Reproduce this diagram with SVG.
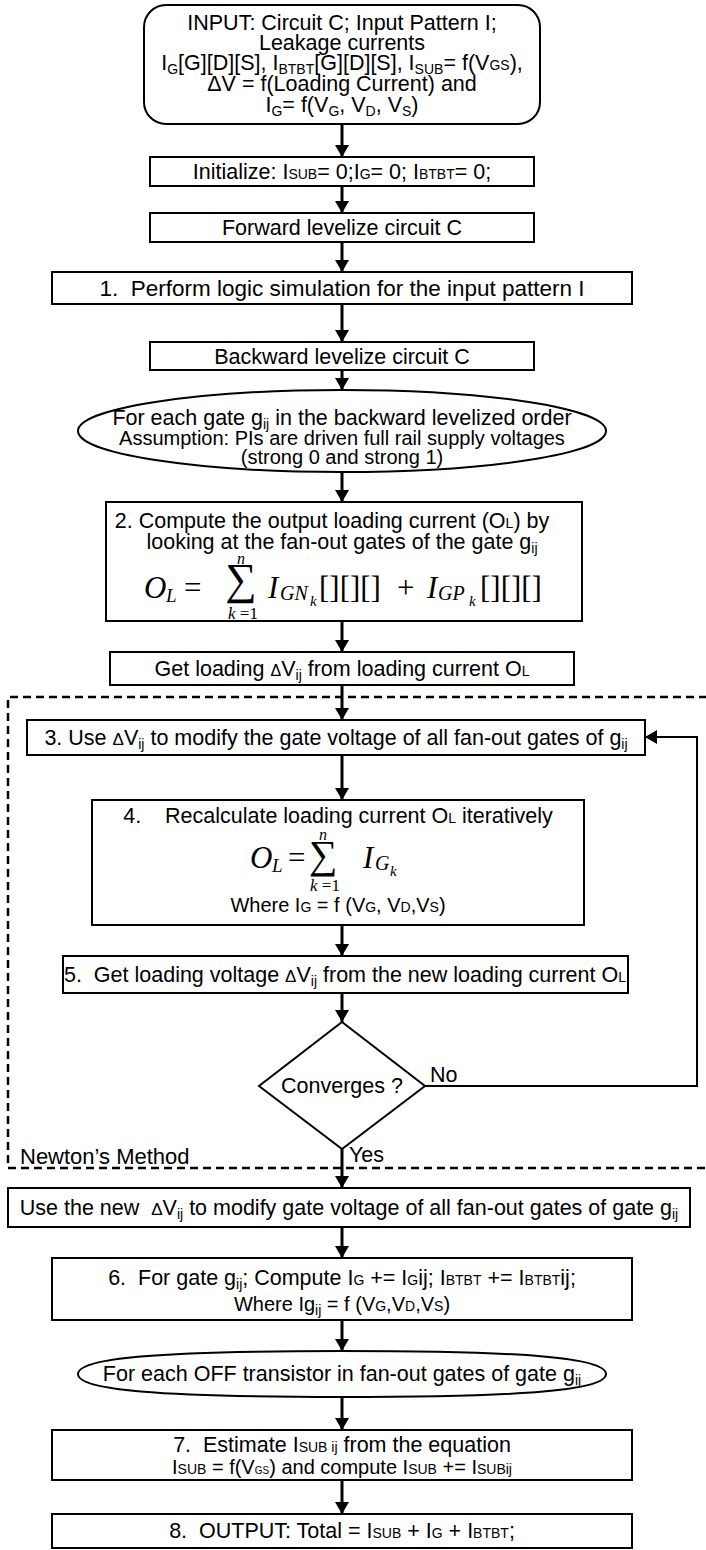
<svg xmlns="http://www.w3.org/2000/svg" width="706" height="1550" viewBox="0 0 706 1550">
<style>
.box{fill:#fff;stroke:#000;stroke-width:2}
.t{font-family:"Liberation Sans",Arial,sans-serif;font-size:21.5px;text-anchor:middle;fill:#000}
.tl{font-family:"Liberation Sans",Arial,sans-serif;font-size:21.5px;fill:#000}
.sb{font-size:14px}
.m{font-family:"Liberation Serif","Times New Roman",serif;font-style:italic;fill:#000}
.r{font-family:"Liberation Serif","Times New Roman",serif;fill:#000}
.sig{font-family:"Liberation Serif","Times New Roman",serif;font-size:44px;text-anchor:middle;fill:#000}
.c{fill:none;stroke:#000;stroke-width:3}
.fb{fill:none;stroke:#000;stroke-width:2}
.dash{fill:none;stroke:#000;stroke-width:2.5;stroke-dasharray:8 5}
</style>
<defs>
<marker id="ah" viewBox="0 0 12 14" refX="12" refY="7" markerWidth="12" markerHeight="14" orient="auto" markerUnits="userSpaceOnUse"><path d="M0,0 L12,7 L0,14 z" fill="#000"/></marker>
</defs>
<rect width="706" height="1550" fill="#fff"/>

<g id="newton-region">
<path class="dash" d="M720,697 H8 V1168 H720"/>
<text class="tl" x="20" y="1164" style="font-size:22px">Newton’s Method</text>
</g>

<g id="connectors">
<line class="c" x1="342" y1="124" x2="342" y2="157" marker-end="url(#ah)"/>
<line class="c" x1="342" y1="186" x2="342" y2="213" marker-end="url(#ah)"/>
<line class="c" x1="342" y1="242" x2="342" y2="272" marker-end="url(#ah)"/>
<line class="c" x1="342" y1="304" x2="342" y2="342" marker-end="url(#ah)"/>
<line class="c" x1="342" y1="370" x2="342" y2="390" marker-end="url(#ah)"/>
<line class="c" x1="342" y1="472" x2="342" y2="502" marker-end="url(#ah)"/>
<line class="c" x1="342" y1="621" x2="342" y2="652" marker-end="url(#ah)"/>
<line class="c" x1="342" y1="685" x2="342" y2="720" marker-end="url(#ah)"/>
<line class="c" x1="342" y1="755" x2="342" y2="800" marker-end="url(#ah)"/>
<line class="c" x1="342" y1="925" x2="342" y2="956" marker-end="url(#ah)"/>
<line class="c" x1="342" y1="993" x2="342" y2="1022" marker-end="url(#ah)"/>
<line class="c" x1="342" y1="1149" x2="342" y2="1188" marker-end="url(#ah)"/>
<line class="c" x1="342" y1="1227" x2="342" y2="1258" marker-end="url(#ah)"/>
<line class="c" x1="342" y1="1320" x2="342" y2="1351" marker-end="url(#ah)"/>
<line class="c" x1="342" y1="1397" x2="342" y2="1430" marker-end="url(#ah)"/>
<line class="c" x1="342" y1="1480" x2="342" y2="1514" marker-end="url(#ah)"/>
<polyline class="fb" points="425,1086 697,1086 697,737 645,737" marker-end="url(#ah)"/>
<text class="tl" x="430" y="1082">No</text>
<text class="tl" x="349" y="1162">Yes</text>
</g>

<g id="input">
<rect class="box" x="144" y="5" width="396" height="119" rx="22"/>
<text class="t" x="342" y="30">INPUT: Circuit C; Input Pattern I;</text>
<text class="t" x="342" y="50">Leakage currents</text>
<text class="t" x="342" y="70">I<tspan class="sb" dy="4">G</tspan><tspan dy="-4">[G][D][S], I</tspan><tspan class="sb" dy="4">BTBT</tspan><tspan dy="-4">[G][D][S], I</tspan><tspan class="sb" dy="4">SUB</tspan><tspan dy="-4">= f(V</tspan><tspan class="sb">GS</tspan>),</text>
<text class="t" x="342" y="91">ΔV = f(Loading Current) and</text>
<text class="t" x="342" y="112">I<tspan class="sb" dy="4">G</tspan><tspan dy="-4">= f(V</tspan><tspan class="sb" dy="4">G</tspan><tspan dy="-4">, V</tspan><tspan class="sb" dy="4">D</tspan><tspan dy="-4">, V</tspan><tspan class="sb" dy="4">S</tspan><tspan dy="-4">)</tspan></text>
</g>

<g id="init">
<rect class="box" x="150" y="157" width="384" height="29"/>
<text class="t" x="342" y="179">Initialize: I<tspan class="sb">SUB</tspan>= 0;I<tspan class="sb">G</tspan>= 0; I<tspan class="sb">BTBT</tspan>= 0;</text>
</g>

<g id="forward">
<rect class="box" x="150" y="213" width="384" height="29"/>
<text class="t" x="342" y="235">Forward levelize circuit C</text>
</g>

<g id="step1">
<rect class="box" x="52" y="272" width="580" height="32"/>
<text class="t" x="342" y="296" style="font-size:22.5px">1.&#160; Perform logic simulation for the input pattern I</text>
</g>

<g id="backward">
<rect class="box" x="150" y="342" width="384" height="28"/>
<text class="t" x="342" y="364">Backward levelize circuit C</text>
</g>

<g id="foreach-gate">
<ellipse class="box" cx="342" cy="431" rx="264" ry="41"/>
<text class="t" x="342" y="425">For each gate g<tspan class="sb" dy="4">ij</tspan><tspan dy="-4"> in the backward levelized order</tspan></text>
<text class="t" x="342" y="445" style="font-size:20px">Assumption: PIs are driven full rail supply voltages</text>
<text class="t" x="342" y="464" style="font-size:20px">(strong 0 and strong 1)</text>
</g>

<g id="step2">
<rect class="box" x="106" y="502" width="476" height="119"/>
<text class="t" x="332" y="528">2. Compute the output loading current (O<tspan class="sb">L</tspan>) by</text>
<text class="t" x="342" y="549">looking at the fan-out gates of the gate g<tspan class="sb" dy="4">ij</tspan></text>
<text class="m" x="144" y="598" style="font-size:31px">O</text>
<text class="m" x="166" y="602" style="font-size:19px">L</text>
<text class="r" x="184" y="598" style="font-size:31px">=</text>
<text class="sig" x="241" y="594">∑</text>
<text class="m" x="241" y="564" style="font-size:16px;text-anchor:middle">n</text>
<text class="r" x="243" y="619" style="font-size:17px;text-anchor:middle"><tspan class="m">k</tspan> =1</text>
<text class="m" x="268" y="598" style="font-size:31px">I</text>
<text class="m" x="280" y="600" style="font-size:20px">GN</text>
<text class="m" x="310" y="606" style="font-size:15px">k</text>
<text class="r" x="319" y="598" style="font-size:31px">[][][]</text>
<text class="r" x="397" y="598" style="font-size:31px">+</text>
<text class="m" x="427" y="598" style="font-size:31px">I</text>
<text class="m" x="438" y="600" style="font-size:20px">GP</text>
<text class="m" x="469" y="606" style="font-size:15px">k</text>
<text class="r" x="480" y="598" style="font-size:31px">[][][]</text>
</g>

<g id="get-loading">
<rect class="box" x="110" y="652" width="464" height="33"/>
<text class="t" x="342" y="676">Get loading <tspan style="font-size:16px">Δ</tspan>V<tspan class="sb" dy="4">ij</tspan><tspan dy="-4"> from loading current O</tspan><tspan class="sb">L</tspan></text>
</g>

<g id="step3">
<rect class="box" x="27" y="720" width="618" height="35"/>
<text class="t" x="336" y="745">3. Use <tspan style="font-size:17px">Δ</tspan>V<tspan class="sb" dy="4">ij</tspan><tspan dy="-4"> to modify the gate voltage of all fan-out gates of g</tspan><tspan class="sb" dy="4">ij</tspan></text>
</g>

<g id="step4">
<rect class="box" x="92" y="800" width="492" height="125"/>
<text class="t" x="338" y="823">4.&#160;&#160;&#160; Recalculate loading current O<tspan class="sb">L</tspan> iteratively</text>
<text class="m" x="250" y="868" style="font-size:31px">O</text>
<text class="m" x="272" y="872" style="font-size:19px">L</text>
<text class="r" x="288" y="868" style="font-size:31px">=</text>
<text class="sig" x="323" y="868" style="font-size:40px">∑</text>
<text class="m" x="323" y="840" style="font-size:16px;text-anchor:middle">n</text>
<text class="r" x="325" y="891" style="font-size:17px;text-anchor:middle"><tspan class="m">k</tspan> =1</text>
<text class="m" x="363" y="868" style="font-size:31px">I</text>
<text class="m" x="375" y="870" style="font-size:20px">G</text>
<text class="m" x="390" y="876" style="font-size:15px">k</text>
<text class="t" x="338" y="912" style="font-size:20px">Where I<tspan class="sb">G</tspan> = f (V<tspan class="sb">G</tspan>, V<tspan class="sb">D</tspan>,V<tspan class="sb">S</tspan>)</text>
</g>

<g id="step5">
<rect class="box" x="63" y="956" width="565" height="37"/>
<text class="t" x="345" y="982">5.&#160; Get loading voltage <tspan style="font-size:17px">Δ</tspan>V<tspan class="sb" dy="4">ij</tspan><tspan dy="-4"> from the new loading current O</tspan><tspan class="sb">L</tspan></text>
</g>

<g id="converges">
<polygon class="box" points="342,1022 425,1086 342,1149 259,1086"/>
<text class="t" x="342" y="1093">Converges ?</text>
</g>

<g id="use-new">
<rect class="box" x="8" y="1188" width="682" height="39"/>
<text class="t" x="349" y="1215">Use the new&#160; <tspan style="font-size:17px">Δ</tspan>V<tspan class="sb" dy="4">ij</tspan><tspan dy="-4"> to modify gate voltage of all fan-out gates of gate g</tspan><tspan class="sb" dy="4">ij</tspan></text>
</g>

<g id="step6">
<rect class="box" x="52" y="1258" width="580" height="62"/>
<text class="t" x="342" y="1285">6.&#160; For gate g<tspan class="sb" dy="4">ij</tspan><tspan dy="-4">; Compute I</tspan><tspan class="sb">G</tspan> += I<tspan class="sb">G</tspan>ij; I<tspan class="sb">BTBT</tspan> += I<tspan class="sb">BTBT</tspan>ij;</text>
<text class="t" x="342" y="1311" style="font-size:20px">Where Ig<tspan class="sb" dy="4">ij</tspan><tspan dy="-4"> = f (V</tspan><tspan class="sb">G</tspan>,V<tspan class="sb">D</tspan>,V<tspan class="sb">S</tspan>)</text>
</g>

<g id="foreach-off">
<path class="box" d="M78,1374 C78,1357.9 157.2,1351 342,1351 C526.8,1351 606,1357.9 606,1374 C606,1390.1 526.8,1397 342,1397 C157.2,1397 78,1390.1 78,1374 Z"/>
<text class="t" x="342" y="1381">For each OFF transistor in fan-out gates of gate g<tspan class="sb" dy="4">ij</tspan></text>
</g>

<g id="step7">
<rect class="box" x="52" y="1430" width="580" height="50"/>
<text class="t" x="342" y="1452">7.&#160; Estimate I<tspan class="sb">SUB ij</tspan> from the equation</text>
<text class="t" x="342" y="1474" style="font-size:20px">I<tspan class="sb">SUB</tspan> = f(V<tspan style="font-size:10px">GS</tspan>) and compute I<tspan class="sb">SUB</tspan> += I<tspan class="sb">SUBij</tspan></text>
</g>

<g id="step8">
<rect class="box" x="52" y="1514" width="580" height="34"/>
<text class="t" x="342" y="1538">8.&#160; OUTPUT: Total = I<tspan class="sb">SUB</tspan> + I<tspan class="sb">G</tspan> + I<tspan class="sb">BTBT</tspan>;</text>
</g>
</svg>
